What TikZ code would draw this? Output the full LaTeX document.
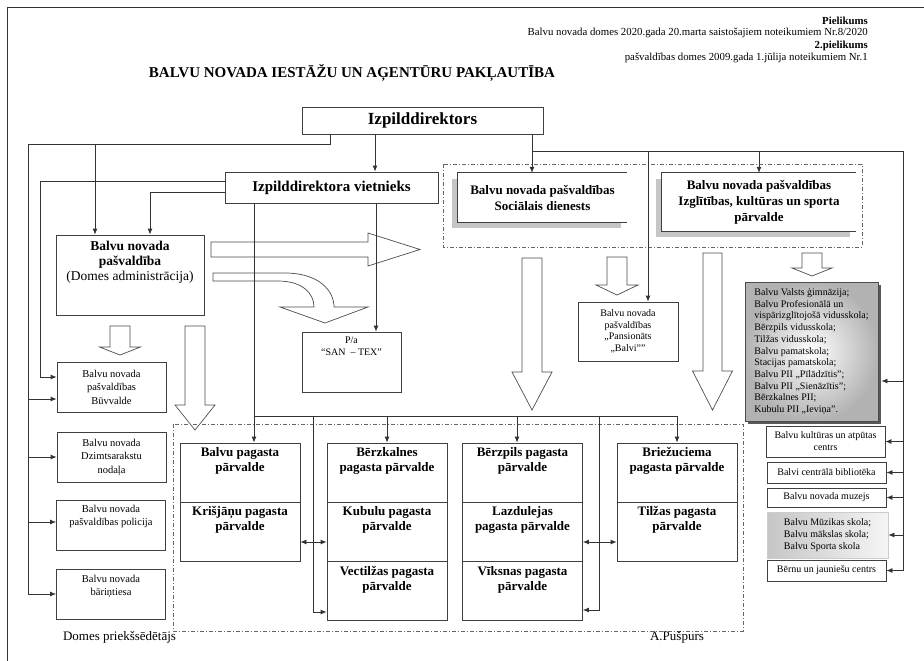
\documentclass[tikz,border=0pt]{standalone}
\usepackage{fontspec}
\setmainfont{Liberation Serif}
\usetikzlibrary{arrows.meta,positioning,calc,shadows}

\tikzset{
  ln/.style={draw=black!80, line width=.8pt},
  arr/.style={ln, -{Latex[length=6pt,width=5pt]}},
  darr/.style={ln, {Latex[length=6pt,width=5pt]}-{Latex[length=6pt,width=5pt]}},
  box/.style={draw=black!75, line width=.8pt, rectangle, inner sep=2pt, align=center, fill=white},
  sbox/.style={box, minimum width=109, minimum height=50, font=\fontsize{10.5}{13.5}\selectfont},
  rbox/.style={box, minimum width=119, font=\fontsize{10}{12}\selectfont},
  pbox/.style={box, minimum width=120, minimum height=59},
  shbox/.style={rectangle, fill=white, align=center, inner sep=2pt,
    font=\fontsize{13}{16}\selectfont\bfseries,
    drop shadow={shadow xshift=-6pt, shadow yshift=-6pt, fill=gray!45, opacity=1}},
  ptxt/.style={font=\fontsize{13}{15}\selectfont\bfseries, align=center, inner sep=0pt},
  stxt/.style={font=\fontsize{10.5}{13.5}\selectfont, align=center, inner sep=0pt},
  ddash/.style={draw=black!60, line width=.6pt, dash pattern=on 4pt off 2pt on 1pt off 2pt},
  barrow/.style={draw=black!70, line width=.7pt, fill=white, line join=miter},
  hdr/.style={anchor=east, inner sep=0pt, font=\fontsize{10.8}{12}\selectfont},
}

\begin{document}
\begin{tikzpicture}[x=1pt, y=-1pt]
\useasboundingbox (0,0) rectangle (924,661);
% page frame
\draw[black!80, line width=.8pt] (7,661) -- (7,7) -- (924,7);

% header
\node[hdr, font=\fontsize{10.8}{12}\selectfont\bfseries] (hd1) at (868,21) {Pielikums};
\node[hdr] (hd2) at (868,33) {Balvu novada domes 2020.gada 20.marta saistošajiem noteikumiem Nr.8/2020};
\node[hdr, font=\fontsize{10.8}{12}\selectfont\bfseries] (hd3) at (868,46) {2.pielikums};
\node[hdr] (hd4) at (868,58) {pašvaldības domes 2009.gada 1.jūlija noteikumiem Nr.1};
\node[font=\fontsize{15}{17}\selectfont\bfseries] (title) at (352,73) {BALVU NOVADA IESTĀŽU UN AĢENTŪRU PAKĻAUTĪBA};

% block arrows
\draw[barrow] (211,242) -- (368,242) -- (368,233) -- (420,249.5) -- (368,266) -- (368,257) -- (211,257) -- cycle;
\draw[barrow] (213,273) -- (285,273) .. controls (318,273) and (334,290) .. (334,307) -- (368,307)
  -- (325,323) -- (280,307) -- (314,307) .. controls (314,293) and (302,281) .. (278,281) -- (213,281) -- cycle;
\foreach \xa/\ya/\yb/\yc/\sw/\hw in {120/326/347/355/10/20.5, 195/326/405/430/10/20,
    532/258/372/410/10/20, 617/257/285/295/10/21, 712.5/253/371/410/9.5/20, 812/253/268/276/10/20}
  \draw[barrow] (\xa-\sw,\ya) -- (\xa+\sw,\ya) -- (\xa+\sw,\yb) -- (\xa+\hw,\yb) -- (\xa,\yc)
    -- (\xa-\hw,\yb) -- (\xa-\sw,\yb) -- cycle;

% containers
\draw[ddash] (443,164) rectangle (862,247);
\draw[ddash] (173,424) rectangle (743,631);

% management
\node[box, minimum width=241, minimum height=27, font=\fontsize{17}{20}\selectfont\bfseries] (id) at (422.5,120.5) {Izpilddirektors};
\node[box, minimum width=213, minimum height=31, font=\fontsize{15}{18}\selectfont\bfseries] (vn) at (331.5,187.5) {Izpilddirektora vietnieks};

\node[box, minimum width=148, minimum height=80] (pasv) at (130,275) {};
\node[below=6pt of pasv.north, align=center, inner sep=0pt, font=\fontsize{13.5}{15}\selectfont] (pasv-t)
  {{\bfseries Balvu novada}\\{\bfseries pašvaldība}\\(Domes administrācija)};

% left column
\node[sbox] (buv) at (111.5,387) {Balvu novada\\pašvaldības\\Būvvalde};
\node[sbox] (dzim) at (111.5,457) {Balvu novada\\Dzimtsarakstu\\nodaļa};
\node[sbox] (pol) at (111,525) {};
\node[stxt, below=5pt of pol.north] (pol-t) {Balvu novada\\pašvaldības policija};
\node[sbox] (barin) at (111,594) {};
\node[stxt, below=6pt of barin.north] (barin-t) {Balvu novada\\bāriņtiesa};

\node[box, minimum width=99, minimum height=60] (sant) at (351.5,362) {};
\node[stxt, font=\fontsize{10}{12}\selectfont, below=5pt of sant.north] (sant-t) {P/a\\“SAN \ – TEX”};

% social and education
\node[shbox, minimum width=169, minimum height=49] (soc) at (542.5,197.5) {Balvu novada pašvaldības\\Sociālais dienests};
\draw[black!75, line width=.8pt] (soc.north east) -- (soc.north west) -- (soc.south west) -- (soc.south east);
\node[shbox, minimum width=194, minimum height=58] (izgl) at (759,202) {Balvu novada pašvaldības\\Izglītības, kultūras un sporta\\pārvalde};
\draw[black!75, line width=.8pt] (izgl.north east) -- (izgl.north west) -- (izgl.south west) -- (izgl.south east);

\node[box, minimum width=100, minimum height=59, font=\fontsize{10}{11.5}\selectfont] (pans) at (628,331.5)
  {Balvu novada\\pašvaldības\\„Pansionāts\\„Balvi””};

% right column
\node[box, minimum width=133, minimum height=139, align=left, draw=gray!60!black,
  shading=radial, inner color=white, outer color=gray!60,
  drop shadow={shadow xshift=3pt, shadow yshift=-3pt, fill=gray!70!black, opacity=1},
  font=\fontsize{10}{11.7}\selectfont] (sch) at (811.5,351.5)
  {Balvu Valsts ģimnāzija;\\Balvu Profesionālā un\\vispārizglītojošā vidusskola;\\Bērzpils vidusskola;\\
   Tilžas vidusskola;\\Balvu pamatskola;\\Stacijas pamatskola;\\Balvu PII „Pīlādzītis”;\\
   Balvu PII „Sienāzītis”;\\Bērzkalnes PII;\\Kubulu PII „Ieviņa”.};
\node[rbox, minimum height=31] (kult) at (825.5,441.5) {Balvu kultūras un atpūtas\\centrs};
\node[rbox, minimum height=21] (bibl) at (826.5,472.5) {Balvi centrālā bibliotēka};
\node[rbox, minimum height=19] (muz) at (826.5,497.5) {Balvu novada muzejs};
\node[rbox, minimum width=121, minimum height=46, align=left, draw=gray!40,
  left color=gray!45, right color=gray!8] (muzik) at (827.5,535)
  {Balvu Mūzikas skola;\\Balvu mākslas skola;\\Balvu Sporta skola};
\node[rbox, minimum height=21] (bern) at (826.5,570.5) {Bērnu un jauniešu centrs};

% pagasta parvaldes
\foreach \nm/\cx/\cy/\txt in {p1/240/472.5/{Balvu pagasta\\pārvalde}, p2/240/531.5/{Krišjāņu pagasta\\pārvalde},
    p3/387/472.5/{Bērzkalnes\\pagasta pārvalde}, p4/387/531.5/{Kubulu pagasta\\pārvalde},
    p5/387/591/{Vectilžas pagasta\\pārvalde}, p6/522.5/472.5/{Bērzpils pagasta\\pārvalde},
    p7/522.5/531.5/{Lazdulejas\\pagasta pārvalde}, p8/522.5/591/{Vīksnas pagasta\\pārvalde},
    p9/677/472.5/{Briežuciema\\pagasta pārvalde}, p10/677/531.5/{Tilžas pagasta\\pārvalde}}{
  \node[pbox] (\nm) at (\cx,\cy) {};
  \node[ptxt, below=5pt of \nm.north] (\nm-t) {\txt};
}

% connectors from Izpilddirektors
\coordinate (L1) at (28,144);
\coordinate (R1) at (903,151);
\draw[ln] ([xshift=-92.5]id.south) |- (L1);
\draw[arr] (L1) |- (barin.west);
\coordinate (b1) at ([yshift=-12]buv.west);
\draw[arr] (L1 |- b1) -- (b1);
\draw[arr] (L1 |- dzim.west) -- (dzim.west);
\coordinate (b3) at ([yshift=3]pol.west);
\draw[arr] (L1 |- b3) -- (b3);
\coordinate (a1) at ([xshift=-35]pasv.north);
\draw[arr] (a1 |- L1) -- (a1);

\draw[ln] ([xshift=109.5]id.south) |- (R1);
\draw[arr] (R1) |- (bern.east);
\coordinate (s1) at ([yshift=-29.5]sch.east);
\draw[arr] (R1 |- s1) -- ([xshift=3]s1);
\foreach \nm in {kult,bibl,muz,muzik}
  \draw[arr] (R1 |- \nm.east) -- (\nm.east);
\coordinate (s2) at ([xshift=-10.5]soc.north);
\draw[arr] (s2 |- R1) -- (s2);
\coordinate (s3) at ([xshift=20]pans.north);
\draw[arr] (s3 |- R1) -- (s3);
\draw[arr] (izgl.north |- R1) -- (izgl.north);

% connectors from vietnieks
\coordinate (v0) at ([xshift=-47.5]id.south);
\draw[arr] (v0) -- (v0 |- vn.north);
\coordinate (v1) at ([yshift=6.5]vn.west);
\coordinate (b2) at ([yshift=10]buv.west);
\draw[arr] (v1) -| ([xshift=-16]b2) -- (b2);
\coordinate (v2) at ([yshift=-4.5]vn.west);
\draw[arr] (v2) -| ([xshift=20]pasv.north);
\coordinate (v3) at ([xshift=-77.5]vn.south);
\draw[arr] (v3) -- (v3 |- p1.north);
\coordinate (v4) at ([xshift=44.5]vn.south);
\draw[arr] (v4) -- (v4 |- sant.north);

% pagasti bus
\coordinate (bus) at ($(v3)+(0,213)$);
\draw[arr] (bus) -| (p9.north);
\draw[arr] (bus -| p3.north) -- (p3.north);
\coordinate (c6) at ([xshift=-5.5]p6.north);
\draw[arr] (bus -| c6) -- (c6);
\coordinate (m1) at ($(p2.east)!.5!(p4.west)$);
\coordinate (m2) at ($(p7.east)!.5!(p10.west)$);
\coordinate (e5) at ([yshift=-21]p5.west);
\draw[arr] (bus -| m1) |- (e5);
\coordinate (e8) at ([yshift=-19]p8.east);
\draw[arr] (bus -| m2) |- (e8);
\draw[darr] ([yshift=-10.5]p2.east) -- ([yshift=-10.5]p4.west);
\draw[darr] ([yshift=-10.5]p7.east) -- ([yshift=-10.5]p10.west);

% signatures
\node[font=\fontsize{13}{15}\selectfont] (pred) at (119.5,637) {Domes priekšsēdētājs};
\node[font=\fontsize{13}{15}\selectfont] (push) at (677,637) {A.Pušpurs};
\end{tikzpicture}
\end{document}
